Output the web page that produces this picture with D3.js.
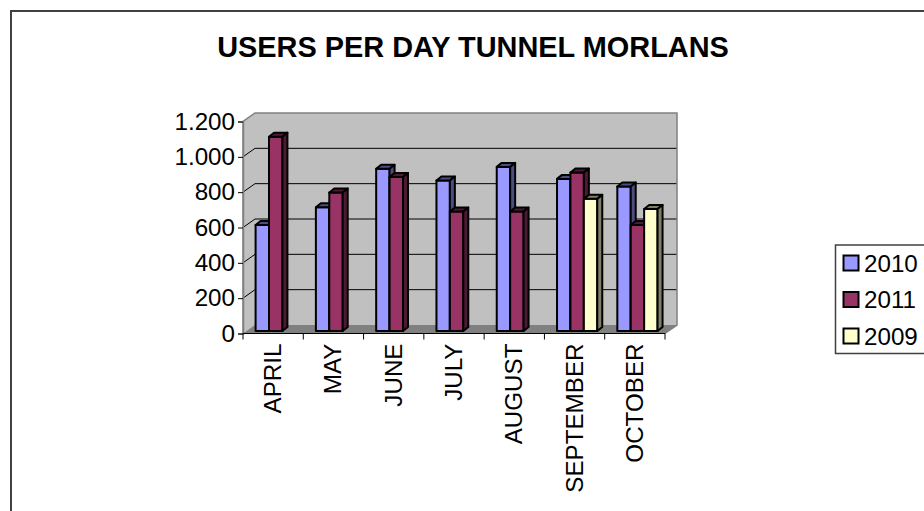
<!DOCTYPE html>
<html>
<head>
<meta charset="utf-8">
<script src="https://cdn.jsdelivr.net/npm/d3@7"></script>
<style>
html, body { margin: 0; padding: 0; background: #fff; overflow: hidden; }
text { font-family: "Liberation Sans", Arial, sans-serif; fill: #000; }
</style>
</head>
<body>
<div id="chart"></div>
<script>
const months = ["APRIL", "MAY", "JUNE", "JULY", "AUGUST", "SEPTEMBER", "OCTOBER"];
const seriesNames = ["2010", "2011", "2009"];
const values2010 = [600, 700, 918, 852, 929, 861, 818];
const values2011 = [1100, 784, 872, 676, 676, 897, 600];
const values2009 = [null, null, null, null, null, 748, 691];
const yTicks = [0, 200, 400, 600, 800, 1000, 1200];
const tickLabels = ["0", "200", "400", "600", "800", "1.000", "1.200"];
const titleText = "USERS PER DAY TUNNEL MORLANS";

const width = 924, height = 511;
const colors = { "2010": ["#9999ff", "#4d4d80"], "2011": ["#993366", "#4d1a33"], "2009": ["#ffffcc", "#808066"] };
const allValues = [values2010, values2011, values2009];
const labelSize = 24.2;

const svg = d3.select("#chart").append("svg")
    .attr("width", width)
    .attr("height", height)
    .style("display", "block");

// page frame, open on the right and at the bottom
svg.append("path")
    .attr("d", "M11,511V11H924")
    .attr("fill", "none")
    .attr("stroke", "#404040")
    .attr("stroke-width", 2);

svg.append("text")
    .attr("x", 473)
    .attr("y", 57)
    .attr("text-anchor", "middle")
    .attr("font-size", 28.9)
    .attr("font-weight", "bold")
    .text(titleText);

// front plane of the axis and depth of the 3D box
const x = d3.scaleBand().domain(months).range([243, 665]);
const y = d3.scaleLinear().domain([0, 1200]).range([333.5, 121.5]);
const depth = { x: 12, y: -8.5 };
const g = svg.append("g");

// back wall and side wall
const x0 = x.range()[0], x1 = x.range()[1], y0 = y(0), yTop = y(1200);
g.append("path")
    .attr("d", `M${x0},${y0}L${x0},${yTop}L${x0 + depth.x},${yTop + depth.y}L${x1 + depth.x},${yTop + depth.y}L${x1 + depth.x},${y0 + depth.y}L${x1},${y0}Z`)
    .attr("fill", "#c0c0c0");
g.append("path")
    .attr("d", `M${x0},${y0}L${x0 + depth.x},${y0 + depth.y}L${x1 + depth.x},${y0 + depth.y}L${x1},${y0}Z`)
    .attr("fill", "#808080");

// gridlines on the wall
yTicks.slice(1, -1).forEach(t => {
    g.append("path")
        .attr("d", `M${x0},${y(t)}L${x0 + depth.x},${y(t) + depth.y}L${x1 + depth.x},${y(t) + depth.y}`)
        .attr("fill", "none")
        .attr("stroke", "#000")
        .attr("stroke-width", 1);
});

// wall outline
g.append("path")
    .attr("d", `M${x0},${y0}L${x0},${yTop}L${x0 + depth.x},${yTop + depth.y}L${x1 + depth.x},${yTop + depth.y}L${x1 + depth.x},${y0 + depth.y}L${x1},${y0}`)
    .attr("fill", "none")
    .attr("stroke", "#808080")
    .attr("stroke-width", 1.5);

// bars
const barW = x.bandwidth() * 0.2225, barDx = 5, barDy = -4, baseShift = -2.5;
const bars = g.append("g").attr("stroke", "#000").attr("stroke-width", 2).attr("stroke-linejoin", "round");
months.forEach((m, i) => {
    seriesNames.forEach((s, j) => {
        const v = allValues[j][i];
        if (v == null) return;
        const left = x(m) + 12.6 + j * barW, right = left + barW;
        const base = y0 + baseShift, top = base - (y0 - y(v));
        const c = colors[s];
        bars.append("rect")
            .attr("x", left).attr("y", top)
            .attr("width", barW).attr("height", base - top)
            .attr("fill", c[0]);
        bars.append("path")
            .attr("d", `M${left},${top}L${left + barDx},${top + barDy}L${right + barDx},${top + barDy}L${right},${top}Z`)
            .attr("fill", c[1]);
        bars.append("path")
            .attr("d", `M${right},${top}L${right + barDx},${top + barDy}L${right + barDx},${base + barDy}L${right},${base}Z`)
            .attr("fill", c[1]);
    });
});

// axes
const yAxis = d3.axisLeft(y).tickValues(yTicks).tickFormat((d, i) => tickLabels[i]).tickSize(5).tickPadding(3);
const yG = svg.append("g").attr("transform", `translate(${x0},0)`).call(yAxis);
yG.selectAll("text").attr("font-size", labelSize).style("font-family", '"Liberation Sans", Arial, sans-serif');
yG.selectAll("line").attr("stroke", "#000");
yG.select(".domain").attr("stroke", "#808080").attr("stroke-width", 1.5);

const xG = svg.append("g").attr("transform", `translate(0,${y0})`);
xG.append("line").attr("x1", x0).attr("x2", x1).attr("stroke", "#000");
xG.selectAll(".tick").data(d3.range(months.length + 1)).enter().append("line")
    .attr("class", "tick")
    .attr("x1", i => x0 + i * x.step()).attr("x2", i => x0 + i * x.step())
    .attr("y1", 0).attr("y2", 6)
    .attr("stroke", "#000");
xG.selectAll(".lab").data(months).enter().append("text")
    .attr("class", "lab")
    .attr("font-size", labelSize)
    .attr("text-anchor", "end")
    .attr("transform", m => `translate(${x(m) + x.bandwidth() / 2 + 8},10) rotate(-90)`)
    .text(m => m);

// legend
const legend = svg.append("g");
legend.append("path")
    .attr("d", "M924,245H835.5V353.5H924")
    .attr("fill", "none")
    .attr("stroke", "#404040")
    .attr("stroke-width", 1.5);
seriesNames.forEach((s, i) => {
    const ly = 263 + i * 36.5;
    legend.append("rect")
        .attr("x", 843.5).attr("y", ly - 7.5)
        .attr("width", 15).attr("height", 15)
        .attr("fill", colors[s][0])
        .attr("stroke", "#000")
        .attr("stroke-width", 2);
    legend.append("text")
        .attr("x", 864).attr("y", ly + 8.5)
        .attr("font-size", labelSize)
        .text(s);
});
</script>
</body>
</html>
